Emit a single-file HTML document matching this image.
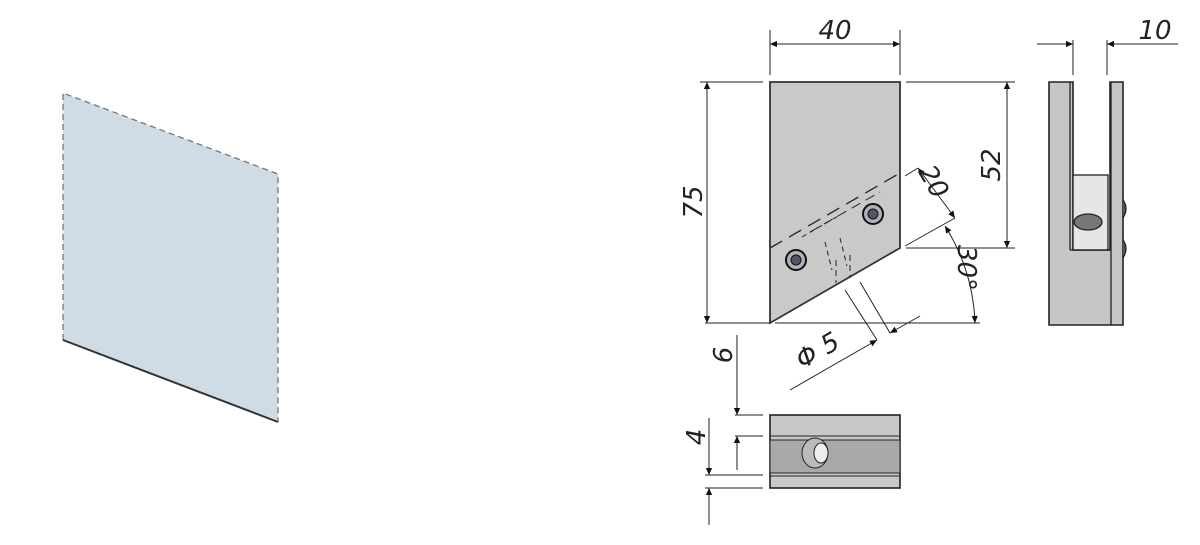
<!DOCTYPE html>
<html><head><meta charset="utf-8"><style>html,body{margin:0;padding:0;background:#fff;}svg{display:block}</style></head>
<body>
<svg width="1200" height="545" viewBox="0 0 1200 545" xmlns="http://www.w3.org/2000/svg" font-family="DejaVu Sans, sans-serif">
<defs>
<marker id="a" viewBox="0 0 10 10" refX="10" refY="5" markerWidth="14" markerHeight="7" orient="auto-start-reverse" markerUnits="userSpaceOnUse"><path d="M0,0.5 L10,5 L0,9.5 z" fill="#111"/></marker>
</defs>
<!-- glass -->
<polygon points="63,93 278,174 278,422 63,340" fill="#cfdbe5"/>
<polyline points="63,340 63,93 278,174 278,422" fill="none" stroke="#777" stroke-width="1.3" stroke-dasharray="6,4"/>
<line x1="63" y1="340" x2="278" y2="422" stroke="#333" stroke-width="2"/>

<g stroke="#222" stroke-width="1" fill="none">
<!-- front view -->
<polygon points="770,82 900,82 900,248 770,323" fill="#c9c9c9" stroke="#333" stroke-width="1.8"/>
<line x1="770" y1="248" x2="900" y2="173" stroke-dasharray="14,8" stroke-width="1.3"/>
<line x1="810" y1="232" x2="880" y2="192" stroke-dasharray="10,6"/>
<line x1="802" y1="237" x2="840" y2="215" stroke-dasharray="5,4"/>
<line x1="825" y1="242" x2="832" y2="270" stroke-dasharray="5,4"/>
<line x1="840" y1="238" x2="847" y2="266" stroke-dasharray="5,4"/>
<line x1="836" y1="260" x2="836" y2="283" stroke-dasharray="6,4"/>
<line x1="850" y1="255" x2="850" y2="278" stroke-dasharray="6,4"/>
<!-- 40 -->
<line x1="770" y1="30" x2="770" y2="75"/><line x1="900" y1="30" x2="900" y2="75"/>
<line x1="770" y1="44" x2="900" y2="44" marker-start="url(#a)" marker-end="url(#a)"/>
<!-- 75 -->
<line x1="700" y1="82" x2="763" y2="82"/><line x1="705" y1="323" x2="770" y2="323"/>
<line x1="707" y1="82" x2="707" y2="323" marker-start="url(#a)" marker-end="url(#a)"/>
<!-- 52 -->
<line x1="906" y1="82" x2="1015" y2="82"/><line x1="906" y1="248" x2="1015" y2="248"/>
<line x1="1007" y1="82" x2="1007" y2="248" marker-start="url(#a)" marker-end="url(#a)"/>
<!-- 20 -->
<line x1="905" y1="176" x2="918" y2="168"/>
<line x1="905" y1="246" x2="955" y2="218"/>
<line x1="918" y1="168" x2="955" y2="218" marker-start="url(#a)" marker-end="url(#a)"/>
<!-- 30 deg -->
<line x1="775" y1="323" x2="980" y2="323"/>
<path d="M945,226 A195,195 0 0 1 975,323" marker-start="url(#a)" marker-end="url(#a)"/>
<!-- phi5 -->
<line x1="845" y1="290" x2="877" y2="340"/><line x1="860" y1="282" x2="890" y2="333"/>
<line x1="790" y1="390" x2="877" y2="340" marker-end="url(#a)"/>
<line x1="890" y1="333" x2="920" y2="316" marker-start="url(#a)"/>
</g>
<!-- screws -->
<g stroke="#111" stroke-width="2">
<circle cx="796" cy="260" r="10" fill="#aab2bb"/><circle cx="796" cy="260" r="5" fill="#556" stroke-width="1"/>
<circle cx="873" cy="214" r="10" fill="#aab2bb"/><circle cx="873" cy="214" r="5" fill="#556" stroke-width="1"/>
</g>
<g fill="#222" font-style="italic" font-size="26">
<text x="835" y="39" text-anchor="middle">40</text>
<text x="1155" y="39" text-anchor="middle">10</text>
<text transform="translate(702,202) rotate(-90)" text-anchor="middle">75</text>
<text transform="translate(1000,165) rotate(-90)" text-anchor="middle">52</text>
<text transform="translate(926,186) rotate(60)" text-anchor="middle">20</text>
<text transform="translate(958,268) rotate(90)" text-anchor="middle">30°</text>
<text transform="translate(822,358) rotate(-30)" text-anchor="middle">Φ 5</text>
<text transform="translate(732,355) rotate(-90)" text-anchor="middle">6</text>
<text transform="translate(705,437) rotate(-90)" text-anchor="middle">4</text>
</g>
<!-- bottom view -->
<g stroke="#222" stroke-width="1">
<rect x="770" y="415" width="130" height="73" fill="#c8c8c8" stroke-width="1.6"/>
<rect x="770" y="440" width="130" height="33" fill="#a9a9a9"/>
<line x1="770" y1="436" x2="900" y2="436"/><line x1="770" y1="476" x2="900" y2="476"/>
<ellipse cx="815" cy="453" rx="13" ry="15" fill="#bbb"/>
<ellipse cx="821" cy="453" rx="7" ry="10" fill="#eee"/>
<line x1="735" y1="415" x2="763" y2="415"/><line x1="735" y1="436" x2="763" y2="436"/>
<line x1="737" y1="335" x2="737" y2="415" marker-end="url(#a)"/>
<line x1="737" y1="436" x2="737" y2="470" marker-start="url(#a)"/>
<line x1="705" y1="475" x2="763" y2="475"/><line x1="705" y1="488" x2="763" y2="488"/>
<line x1="709" y1="418" x2="709" y2="475" marker-end="url(#a)"/>
<line x1="709" y1="488" x2="709" y2="525" marker-start="url(#a)"/>
</g>
<!-- side view -->
<g stroke="#222" stroke-width="1.3">
<path d="M1049,82 H1073 V250 H1110 V82 H1123 V325 H1049 Z" fill="#c6c6c6" stroke-width="1.6"/>
<rect x="1073" y="175" width="35" height="75" fill="#e6e6e6"/>
<line x1="1070" y1="82" x2="1070" y2="250"/><line x1="1111" y1="82" x2="1111" y2="325"/>
<line x1="1070" y1="250" x2="1111" y2="250"/>
<ellipse cx="1088" cy="222" rx="14" ry="8" fill="#777"/>
<path d="M1123,200 q6,8 0,18 M1123,240 q6,8 0,18" fill="#555"/>
</g>
<g stroke="#222" stroke-width="1">
<line x1="1073" y1="40" x2="1073" y2="75"/><line x1="1107" y1="40" x2="1107" y2="75"/>
<line x1="1037" y1="44" x2="1073" y2="44" marker-end="url(#a)"/>
<line x1="1107" y1="44" x2="1178" y2="44" marker-start="url(#a)"/>
</g>
</svg>
</body></html>
